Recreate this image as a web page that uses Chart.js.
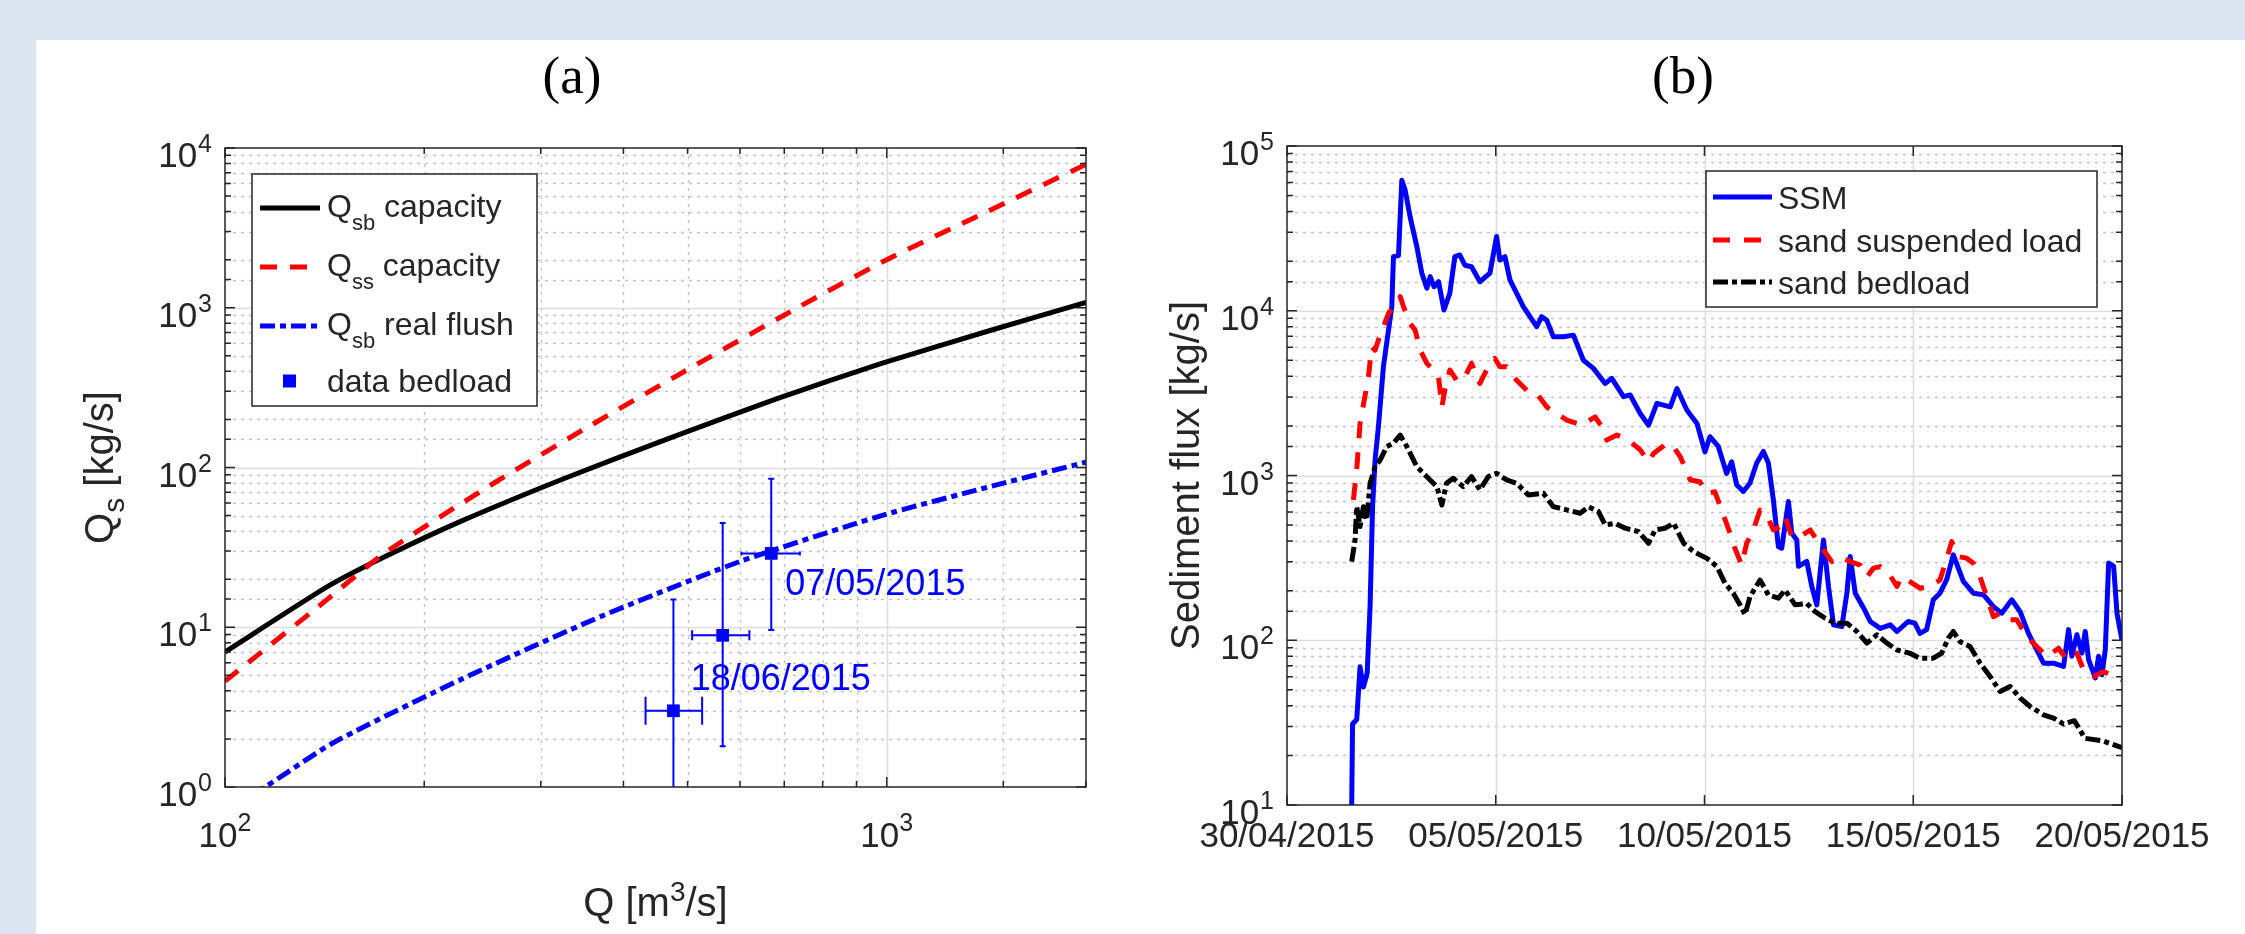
<!DOCTYPE html>
<html>
<head>
<meta charset="utf-8">
<title>Sediment transport</title>
<script src="https://cdn.jsdelivr.net/npm/chart.js@4.4.0/dist/chart.umd.min.js"></script>
<style>
  html, body { margin: 0; padding: 0; }
  body { width: 2245px; height: 934px; background: #dce6f1; position: relative; overflow: hidden; }
  #panel { position: absolute; left: 36px; top: 40px; width: 2209px; height: 894px; background: #ffffff; }
  #chartA { position: absolute; left: 36px; top: 40px; }
  #chartB { position: absolute; left: 1120px; top: 40px; }
</style>
</head>
<body>
<div id="panel"></div>
<canvas id="chartA" width="1084" height="894"></canvas>
<canvas id="chartB" width="1125" height="894"></canvas>
<script>
// ---- (a) capacity curves, Q in m3/s, Qs in kg/s
var capQ = [100, 143, 174, 227, 327, 472, 681, 982, 1416, 2000];
var qsbCapacity = [7.0, 18, 27.5, 46, 86, 154, 269, 448, 710, 1080];
var ssQ = [100, 140, 174, 250, 350, 500, 720, 1000, 1400, 2000];
var qssCapacity = [4.6, 14, 29, 76, 175, 410, 960, 2000, 3900, 7900];
var flushQ = [100, 115, 146, 227, 370, 603, 982, 1416, 2000];
var qsbFlush = [0.70, 1.0, 1.9, 4.7, 11.7, 26, 50, 75, 108];

// measured bedload with error bars
var bedQ = [476, 565, 669];
var bedQs = [3.0, 8.9, 29];
var bedQLow = [432, 508, 603];
var bedQHigh = [526, 620, 739];
var bedQsLow = [0.3, 1.8, 9.6];
var bedQsHigh = [14.9, 45, 85];
var bedDates = ['', '18/06/2015', '07/05/2015'];

// ---- (b) days counted from 30/04/2015
var dateTicks = [0, 5, 10, 15, 20];
var dateLabels = ['30/04/2015', '05/05/2015', '10/05/2015', '15/05/2015', '20/05/2015'];

var ssmDay = [1.55,1.57,1.67,1.75,1.83,1.92,1.99,2.05,2.11,2.19, 2.31,2.51,2.55,2.67,2.75,2.83,2.95,3.11,3.23,3.35,
  3.43,3.52,3.63,3.76,3.90,4.02,4.14,4.26,4.42,4.62, 4.86,5.02,5.10,5.22,5.34,5.46,5.66,5.98,6.10,6.22,
  6.38,6.62,6.86,7.10,7.34,7.62,7.78,8.06,8.22,8.46, 8.66,8.86,9.18,9.34,9.58,9.82,10.01,10.13,10.33,10.53,
  10.65,10.77,10.93,11.09,11.25,11.41,11.53,11.65,11.77,11.85, 12.01,12.09,12.21,12.25,12.45,12.57,12.69,12.85,12.97,13.09,
  13.29,13.41,13.49,13.61,13.81,13.97,14.21,14.45,14.61,14.88, 15.04,15.16,15.32,15.48,15.64,15.80,15.96,16.20,16.44,16.68,
  16.92,17.12,17.36,17.56,17.76,18.12,18.36,18.60,18.72,18.80, 18.92,19.04,19.12,19.20,19.36,19.44,19.52,19.60,19.68,19.80,
  19.88,20.0];
var ssmFlux = [10,31,33,69,52,63,160,650,1240,1980, 4600,10600,21300,21600,62000,54000,37000,24500,16900,13700,
  16100,14000,15000,10100,12800,21300,21800,18900,18500,15000, 16900,28200,20300,21300,15400,13400,10600,8000,9200,8770,
  6950,6950,7110,5010,4470,3620,3890,3010,3080,2380, 2020,2740,2610,3370,2490,2070,1390,1720,1500,1030,
  1210,880,800,900,1190,1400,1190,710,370,362, 695,447,406,281,301,212,164,406,212,124,
  121,193,322,193,157,130,118,124,113,130, 127,110,116,176,193,233,330,228,193,189,
  160,146,176,149,110,72.6,72.6,69.3,116,80, 108,83.6,113,76.2,59,80,61.8,87.7,294,281,
  146,100];

var suspDay = [1.59,1.67,1.75,1.95,2.03,2.11,2.19,2.31,2.43,2.55, 2.71,2.79,2.95,3.07,3.19,3.35,3.51,3.63,3.71,3.78,
  3.90,4.06,4.22,4.42,4.62,4.78,4.98,5.10,5.26,5.42, 5.58,5.78,5.98,6.22,6.46,6.70,7.06,7.38,7.54,7.66,
  7.90,8.18,8.46,8.66,8.78,9.10,9.26,9.42,9.66,9.89, 10.05,10.25,10.41,10.61,10.73,10.89,11.01,11.17,11.33,11.49,
  11.65,11.81,11.93,12.09,12.29,12.53,12.69,12.85,13.05,13.25, 13.49,13.73,13.89,14.05,14.21,14.41,14.61,14.72,14.92,15.16,
  15.40,15.64,15.84,15.92,16.08,16.28,16.44,16.60,16.76,16.92, 17.08,17.28,17.48,17.72,17.96,18.20,18.48,18.68,18.92,19.08,
  19.32,19.56,19.80,20.0];
var suspFlux = [710,1080,2070,3970,6040,5770,6640,8000,9620,10600, 12200,10600,8380,7620,5770,4790,4370,3970,2610,3300,
  4370,3790,3790,4790,3620,4370,5130,4570,4570,3970, 3620,3220,3150,2610,2380,2170,2020,2270,1980,1640,
  1760,1640,1430,1210,1360,1570,1490,1300,940,916, 778,796,617,446,361,286,388,467,617,575,
  467,489,562,426,426,467,406,353,300,322, 300,286,243,274,280,255,212,243,227,207,
  212,232,337,397,322,315,293,243,184,139, 146,133,133,105,91.6,79.6,89.5,76,83.4,66,
  60.3,64.6,60.3,57.5];

var sandBedDay = [1.55,1.63,1.67,1.75,1.83,1.91,1.99,2.11,2.23,2.39, 2.55,2.71,2.87,3.11,3.35,3.59,3.71,3.82,3.98,4.22,
  4.42,4.62,4.82,5.02,5.26,5.50,5.78,6.14,6.38,6.70, 7.02,7.22,7.46,7.62,7.86,8.10,8.42,8.66,8.82,9.06,
  9.26,9.50,9.74,10.06,10.30,10.49,10.69,10.85,10.97,11.09, 11.33,11.53,11.77,11.93,12.17,12.45,12.65,12.89,13.13,13.41,
  13.65,13.89,14.13,14.37,14.61,14.92,15.16,15.48,15.68,15.84, 15.96,16.12,16.36,16.60,16.84,17.08,17.32,17.56,17.80,18.12,
  18.36,18.60,18.86,19.11,19.54,20.0];
var sandBedFlux = [300,406,647,490,647,537,897,1130,1240,1500, 1570,1760,1500,1130,984,855,662,897,962,855,
  984,817,984,1030,940,897,762,780,647,618, 590,647,604,501,513,479,456,388,468,479,
  513,388,345,314,280,222,193,164,143,184, 232,188,180,202,164,167,149,136,127,127,
  113,96,108,96,87.3,83.4,77.8,77.8,83.4,103, 113,98,91.6,72.6,60.3,48.9,52.4,44.6,39.6,35.3,
  33.7,31,32.5,25.4,24.5,22.3];

var AXIS = '#262626';
var SANS = '"Liberation Sans", Arial, Helvetica, sans-serif';
var SERIF = '"Liberation Serif", "Times New Roman", serif';
var BLUE = '#0000ff', RED = '#ff0000', BLACK = '#000000';

Chart.defaults.font.family = SANS;

function pts(xs, ys) {
  return xs.map(function (x, i) { return { x: x, y: ys[i] }; });
}
function isDecade(v) {
  var l = Math.log10(v);
  return Math.abs(l - Math.round(l)) < 1e-6;
}
function richWidth(ctx, parts) {
  var w = 0;
  parts.forEach(function (p) { ctx.font = p.size + 'px ' + SANS; w += ctx.measureText(p.t).width; });
  return w;
}
function drawRich(ctx, parts, x, y) {
  parts.forEach(function (p) {
    ctx.font = p.size + 'px ' + SANS;
    ctx.fillText(p.t, x, y + (p.dy || 0));
    x += ctx.measureText(p.t).width;
  });
}

function gridLines(chart, xMajor) {
  var ctx = chart.ctx, a = chart.chartArea, xs = chart.scales.x, ys = chart.scales.y;
  ctx.save();
  ctx.beginPath();
  ctx.rect(a.left, a.top, a.right - a.left, a.bottom - a.top);
  ctx.clip();
  function one(x1, y1, x2, y2, major) {
    ctx.beginPath();
    ctx.setLineDash(major ? [] : [3, 5]);
    ctx.strokeStyle = major ? '#dddddd' : '#c2c2c2';
    ctx.lineWidth = major ? 1.6 : 1.3;
    ctx.moveTo(x1, y1);
    ctx.lineTo(x2, y2);
    ctx.stroke();
  }
  ys.ticks.forEach(function (t) {
    var y = Math.round(ys.getPixelForValue(t.value)) + 0.5;
    if (y > a.top + 1 && y < a.bottom - 1) one(a.left, y, a.right, y, isDecade(t.value));
  });
  xs.ticks.forEach(function (t) {
    var x = Math.round(xs.getPixelForValue(t.value)) + 0.5;
    if (x > a.left + 1 && x < a.right - 1) one(x, a.top, x, a.bottom, xMajor(t.value));
  });
  ctx.restore();
}

function frameAndTicks(chart, xMajor) {
  var ctx = chart.ctx, a = chart.chartArea, xs = chart.scales.x, ys = chart.scales.y;
  ctx.save();
  ctx.setLineDash([]);
  ctx.strokeStyle = AXIS;
  ctx.lineWidth = 1.5;
  ctx.beginPath();
  ys.ticks.forEach(function (t) {
    var y = ys.getPixelForValue(t.value), len = isDecade(t.value) ? 10 : 6;
    ctx.moveTo(a.left, y); ctx.lineTo(a.left + len, y);
    ctx.moveTo(a.right, y); ctx.lineTo(a.right - len, y);
  });
  xs.ticks.forEach(function (t) {
    var x = xs.getPixelForValue(t.value), len = xMajor(t.value) ? 10 : 6;
    ctx.moveTo(x, a.bottom); ctx.lineTo(x, a.bottom - len);
    ctx.moveTo(x, a.top); ctx.lineTo(x, a.top + len);
  });
  ctx.stroke();
  ctx.strokeRect(a.left, a.top, a.right - a.left, a.bottom - a.top);
  ctx.restore();
}

function powerLabelsY(chart) {
  var ctx = chart.ctx, a = chart.chartArea, ys = chart.scales.y;
  ctx.save();
  ctx.fillStyle = AXIS;
  ctx.textAlign = 'left';
  ctx.textBaseline = 'alphabetic';
  ys.ticks.forEach(function (t) {
    if (!isDecade(t.value)) return;
    var y = ys.getPixelForValue(t.value);
    var e = String(Math.round(Math.log10(t.value)));
    ctx.font = '25px ' + SANS;
    var we = ctx.measureText(e).width;
    ctx.font = '35px ' + SANS;
    var wb = ctx.measureText('10').width;
    var right = a.left - 13;
    ctx.fillText('10', right - we - 1 - wb, y + 19);
    ctx.font = '25px ' + SANS;
    ctx.fillText(e, right - we, y + 4);
  });
  ctx.restore();
}

function powerLabelsX(chart) {
  var ctx = chart.ctx, a = chart.chartArea, xs = chart.scales.x;
  ctx.save();
  ctx.fillStyle = AXIS;
  ctx.textAlign = 'left';
  ctx.textBaseline = 'alphabetic';
  xs.ticks.forEach(function (t) {
    if (!isDecade(t.value)) return;
    var x = xs.getPixelForValue(t.value);
    var e = String(Math.round(Math.log10(t.value)));
    var parts = [{ t: '10', size: 35 }, { t: e, size: 25, dy: -16 }];
    var w = richWidth(ctx, parts);
    drawRich(ctx, parts, x - w / 2, a.bottom + 60);
  });
  ctx.restore();
}

function yTitle(chart, parts, baseX) {
  var ctx = chart.ctx, a = chart.chartArea;
  ctx.save();
  ctx.fillStyle = AXIS;
  ctx.textAlign = 'left';
  ctx.textBaseline = 'alphabetic';
  ctx.translate(baseX, (a.top + a.bottom) / 2);
  ctx.rotate(-Math.PI / 2);
  var w = richWidth(ctx, parts);
  drawRich(ctx, parts, -w / 2, 0);
  ctx.restore();
}

function panelTitle(chart, text, cx) {
  var ctx = chart.ctx;
  ctx.save();
  ctx.fillStyle = BLACK;
  ctx.font = '53px ' + SERIF;
  ctx.textAlign = 'center';
  ctx.textBaseline = 'alphabetic';
  ctx.fillText(text, cx, 53);
  ctx.restore();
}

function legendBox(ctx, x, y, w, h) {
  ctx.setLineDash([]);
  ctx.fillStyle = '#ffffff';
  ctx.fillRect(x, y, w, h);
  ctx.strokeStyle = AXIS;
  ctx.lineWidth = 1.5;
  ctx.strokeRect(x, y, w, h);
}
function legendLine(ctx, x1, x2, y, color, dash) {
  ctx.beginPath();
  ctx.setLineDash(dash);
  ctx.strokeStyle = color;
  ctx.lineWidth = 5;
  ctx.lineCap = 'butt';
  ctx.moveTo(x1, y);
  ctx.lineTo(x2, y);
  ctx.stroke();
  ctx.setLineDash([]);
}

var dashQss = [17, 13];
var dashFlush = [15, 5, 6, 5];
var dashSusp = [17, 14];
var dashBed = [15, 4, 5, 4];

// ---------------- panel (a)
var capLength = [28, 10, 4];
var dateOffset = [null, [-32, 55], [14, 42]];

var plotA = {
  id: 'plotA',
  beforeDatasetsDraw: function (chart) {
    gridLines(chart, isDecade);
  },
  beforeDatasetDraw: function (chart, args) {
    if (args.index !== 0) return;
    var ctx = chart.ctx, a = chart.chartArea, xs = chart.scales.x, ys = chart.scales.y;
    ctx.save();
    ctx.beginPath();
    ctx.rect(a.left, a.top, a.right - a.left, a.bottom - a.top);
    ctx.clip();
    ctx.strokeStyle = BLUE;
    ctx.lineWidth = 2;
    ctx.setLineDash([]);
    bedQ.forEach(function (q, i) {
      var x = xs.getPixelForValue(q), y = ys.getPixelForValue(bedQs[i]);
      var x1 = xs.getPixelForValue(bedQLow[i]), x2 = xs.getPixelForValue(bedQHigh[i]);
      var y1 = ys.getPixelForValue(bedQsLow[i]), y2 = ys.getPixelForValue(bedQsHigh[i]);
      var c = capLength[i] / 2;
      ctx.beginPath();
      ctx.moveTo(x1, y); ctx.lineTo(x2, y);
      ctx.moveTo(x1, y - c); ctx.lineTo(x1, y + c);
      ctx.moveTo(x2, y - c); ctx.lineTo(x2, y + c);
      ctx.moveTo(x, y1); ctx.lineTo(x, y2);
      ctx.moveTo(x - 3, y1); ctx.lineTo(x + 3, y1);
      ctx.moveTo(x - 3, y2); ctx.lineTo(x + 3, y2);
      ctx.stroke();
    });
    ctx.restore();
  },
  afterDatasetsDraw: function (chart) {
    var ctx = chart.ctx, a = chart.chartArea, xs = chart.scales.x, ys = chart.scales.y;
    frameAndTicks(chart, isDecade);

    // date labels beside the measured points
    ctx.save();
    ctx.fillStyle = BLUE;
    ctx.font = '36px ' + SANS;
    ctx.textAlign = 'left';
    ctx.textBaseline = 'alphabetic';
    bedDates.forEach(function (d, i) {
      if (!d) return;
      var x = xs.getPixelForValue(bedQ[i]), y = ys.getPixelForValue(bedQs[i]);
      ctx.fillText(d, x + dateOffset[i][0], y + dateOffset[i][1]);
    });
    ctx.restore();

    // legend
    ctx.save();
    var bx = a.left + 27, by = a.top + 26;
    legendBox(ctx, bx, by, 285, 232);
    var rows = [34, 93, 152, 207];
    legendLine(ctx, bx + 8, bx + 68, by + rows[0], BLACK, []);
    legendLine(ctx, bx + 8, bx + 68, by + rows[1], RED, dashQss);
    legendLine(ctx, bx + 8, bx + 68, by + rows[2], BLUE, dashFlush);
    ctx.fillStyle = BLUE;
    ctx.fillRect(bx + 31, by + rows[3] - 6.5, 13, 13);
    ctx.fillStyle = AXIS;
    ctx.textBaseline = 'alphabetic';
    drawRich(ctx, [{ t: 'Q', size: 32 }, { t: 'sb', size: 22, dy: 13 }, { t: ' capacity', size: 32 }], bx + 75, by + rows[0] + 9);
    drawRich(ctx, [{ t: 'Q', size: 32 }, { t: 'ss', size: 22, dy: 13 }, { t: ' capacity', size: 32 }], bx + 75, by + rows[1] + 9);
    drawRich(ctx, [{ t: 'Q', size: 32 }, { t: 'sb', size: 22, dy: 13 }, { t: ' real flush', size: 32 }], bx + 75, by + rows[2] + 9);
    drawRich(ctx, [{ t: 'data bedload', size: 32 }], bx + 75, by + rows[3] + 11);
    ctx.restore();
  },
  afterDraw: function (chart) {
    var ctx = chart.ctx, a = chart.chartArea;
    powerLabelsY(chart);
    powerLabelsX(chart);
    yTitle(chart, [{ t: 'Q', size: 40 }, { t: 's', size: 30, dy: 11 }, { t: ' [kg/s]', size: 40 }], 77);
    ctx.save();
    ctx.fillStyle = AXIS;
    ctx.textBaseline = 'alphabetic';
    var parts = [{ t: 'Q [m', size: 40 }, { t: '3', size: 28, dy: -15 }, { t: '/s]', size: 40 }];
    var w = richWidth(ctx, parts);
    drawRich(ctx, parts, (a.left + a.right) / 2 - w / 2, a.bottom + 129);
    ctx.restore();
    panelTitle(chart, '(a)', 536);
  }
};

new Chart(document.getElementById('chartA'), {
  type: 'line',
  data: {
    datasets: [
      { label: 'data bedload', type: 'scatter', data: pts(bedQ, bedQs), showLine: false,
        pointStyle: 'rect', pointRadius: 9, pointBackgroundColor: BLUE, pointBorderWidth: 0, order: 1 },
      { label: 'Qsb real flush', data: pts(flushQ, qsbFlush), borderColor: BLUE, borderWidth: 5,
        borderDash: dashFlush, tension: 0.2, order: 2 },
      { label: 'Qss capacity', data: pts(ssQ, qssCapacity), borderColor: RED, borderWidth: 5,
        borderDash: dashQss, tension: 0.2, order: 3 },
      { label: 'Qsb capacity', data: pts(capQ, qsbCapacity), borderColor: BLACK, borderWidth: 5,
        tension: 0.2, order: 4 }
    ]
  },
  options: {
    responsive: false,
    devicePixelRatio: 1,
    animation: false,
    events: [],
    layout: { padding: { left: 189, top: 108, right: 34, bottom: 147 } },
    elements: { point: { radius: 0 }, line: { borderCapStyle: 'butt', fill: false } },
    datasets: { line: { clip: 0 }, scatter: { clip: 0 } },
    plugins: { legend: { display: false }, title: { display: false }, tooltip: { enabled: false } },
    scales: {
      x: { type: 'logarithmic', min: 100, max: 2000,
        ticks: { display: false }, grid: { display: false }, border: { display: false },
        afterFit: function (s) { s.height = 0; } },
      y: { type: 'logarithmic', min: 1, max: 10000,
        ticks: { display: false }, grid: { display: false }, border: { display: false },
        afterFit: function (s) { s.width = 0; } }
    }
  },
  plugins: [plotA]
});

// ---------------- panel (b)
function everyTick() { return true; }

var plotB = {
  id: 'plotB',
  beforeDatasetsDraw: function (chart) {
    gridLines(chart, everyTick);
  },
  afterDatasetsDraw: function (chart) {
    var ctx = chart.ctx, a = chart.chartArea;
    frameAndTicks(chart, everyTick);
    ctx.save();
    var bx = a.right - 416, by = a.top + 25;
    legendBox(ctx, bx, by, 391, 136);
    var rows = [26, 69, 111];
    legendLine(ctx, bx + 7, bx + 66, by + rows[0], BLUE, []);
    legendLine(ctx, bx + 7, bx + 66, by + rows[1], RED, dashSusp);
    legendLine(ctx, bx + 7, bx + 66, by + rows[2], BLACK, dashBed);
    ctx.fillStyle = AXIS;
    ctx.font = '32px ' + SANS;
    ctx.textAlign = 'left';
    ctx.textBaseline = 'alphabetic';
    ctx.fillText('SSM', bx + 72, by + rows[0] + 12);
    ctx.fillText('sand suspended load', bx + 72, by + rows[1] + 12);
    ctx.fillText('sand bedload', bx + 72, by + rows[2] + 12);
    ctx.restore();
  },
  afterDraw: function (chart) {
    var ctx = chart.ctx, a = chart.chartArea, xs = chart.scales.x;
    powerLabelsY(chart);
    ctx.save();
    ctx.fillStyle = AXIS;
    ctx.font = '35px ' + SANS;
    ctx.textAlign = 'center';
    ctx.textBaseline = 'alphabetic';
    dateTicks.forEach(function (d, i) {
      ctx.fillText(dateLabels[i], xs.getPixelForValue(d), a.bottom + 42);
    });
    ctx.restore();
    yTitle(chart, [{ t: 'Sediment flux [kg/s]', size: 40 }], 79);
    panelTitle(chart, '(b)', 563);
  }
};

new Chart(document.getElementById('chartB'), {
  type: 'line',
  data: {
    datasets: [
      { label: 'sand bedload', data: pts(sandBedDay, sandBedFlux), borderColor: BLACK, borderWidth: 5,
        borderDash: dashBed, order: 1 },
      { label: 'sand suspended load', data: pts(suspDay, suspFlux), borderColor: RED, borderWidth: 5,
        borderDash: dashSusp, order: 2 },
      { label: 'SSM', data: pts(ssmDay, ssmFlux), borderColor: BLUE, borderWidth: 5, order: 3 }
    ]
  },
  options: {
    responsive: false,
    devicePixelRatio: 1,
    animation: false,
    events: [],
    layout: { padding: { left: 167, top: 106, right: 123, bottom: 129 } },
    elements: { point: { radius: 0 }, line: { borderCapStyle: 'butt', borderJoinStyle: 'round', tension: 0, fill: false } },
    datasets: { line: { clip: 0 } },
    plugins: { legend: { display: false }, title: { display: false }, tooltip: { enabled: false } },
    scales: {
      x: { type: 'linear', min: 0, max: 20,
        ticks: { stepSize: 5, display: false },
        grid: { display: false }, border: { display: false },
        afterFit: function (s) { s.height = 0; } },
      y: { type: 'logarithmic', min: 10, max: 100000,
        ticks: { display: false }, grid: { display: false }, border: { display: false },
        afterFit: function (s) { s.width = 0; } }
    }
  },
  plugins: [plotB]
});
</script>
</body>
</html>
